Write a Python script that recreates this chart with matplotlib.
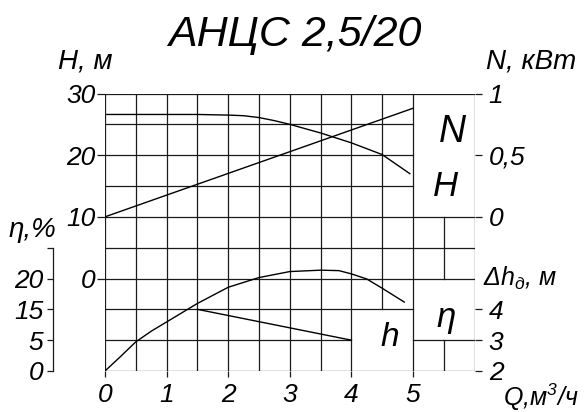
"""
Характеристика насоса АНЦС 2,5/20 в стиле чертежа
"""
import matplotlib
matplotlib.use('Agg')  # без дисплея
import matplotlib.pyplot as plt

plt.rcParams['font.family'] = ['Liberation Sans', 'DejaVu Sans']
plt.rcParams['font.style'] = 'italic'
plt.rcParams['mathtext.fontset'] = 'custom'
plt.rcParams['mathtext.it'] = 'Liberation Sans:italic'
plt.rcParams['mathtext.rm'] = 'Liberation Sans:italic'
plt.rcParams['mathtext.default'] = 'it'

# напор H, м
q_head = [0.03, 0.5, 1.0, 1.5, 2.0, 2.25, 2.5, 2.75, 3.0, 3.5, 4.0, 4.5, 4.95]
head = [26.6, 26.6, 26.6, 26.6, 26.5, 26.4, 26.1, 25.6, 25.0, 23.6, 22.0, 20.1, 17.0]

# мощность N, кВт
q_power = [0.0, 5.0]
power = [0.0, 0.88]

# КПД (в единицах шкалы η)
q_eff = [0.0, 0.25, 0.5, 0.75, 1.0, 1.5, 2.0, 2.5, 3.0, 3.5, 3.8, 4.0, 4.25, 4.5, 4.86]
eff = [0.0, 3.1, 6.3, 8.6, 10.6, 14.6, 18.1, 20.2, 21.5, 21.8, 21.7, 21.0, 19.9, 17.9, 14.9]

# допустимый кавитационный запас Δh, м
q_npsh = [1.5, 4.0]
npsh = [4.0, 3.0]

q_ticks = [0, 1, 2, 3, 4, 5]
h_ticks = [0, 10, 20, 30]
n_ticks = [0, 0.5, 1]
n_labels = ['0', '0,5', '1']
dh_ticks = [2, 3, 4]
eta_labels = ['0', '5', '15', '20']

W, H = 588, 412


def px(x, y):
    """пиксели -> доли фигуры"""
    return x / W, 1 - y / H


fig = plt.figure(figsize=(W / 100, H / 100), dpi=100)
ax = fig.add_axes([105 / W, 1 - 371 / H, 369.5 / W, 277.5 / H])
ax.set_xlim(0, 6)
ax.set_ylim(-15, 30)

axN = ax.twinx()
axN.set_ylim(-1.25, 1)
axD = ax.twinx()
axD.set_ylim(2, 11)
axE = ax.twinx()
axE.set_ylim(0, 60)

for a in (ax, axN, axD, axE):
    for s in a.spines.values():
        s.set_visible(False)
    a.patch.set_visible(False)

# сетка с разрывами под надписи
line_kw = dict(color='#1a1a1a', linewidth=0.9)
row_h = 5
h_segments = {0: [(0, 6)], 1: [(0, 5)], 2: [(0, 5)], 3: [(0, 5)], 4: [(0, 6)],
              5: [(0, 6)], 6: [(0, 6)], 7: [(0, 5)], 8: [(0, 4), (5, 6)], 9: [(0, 6)]}
for k, segs in h_segments.items():
    for x0, x1 in segs:
        ax.plot([x0, x1], [30 - row_h * k] * 2, **line_kw)
v_segments = {9: [(0, 7)], 11: [(4, 6), (8, 9)]}
for j in range(13):
    for k0, k1 in v_segments.get(j, [(0, 9)]):
        ax.plot([j * 0.5] * 2, [30 - row_h * k0, 30 - row_h * k1], **line_kw)

# кривые
curve_kw = dict(color='black', linewidth=1.0)
ax.plot(q_head, head, **curve_kw)
axN.plot(q_power, power, **curve_kw)
axE.plot(q_eff, eff, **curve_kw)
axD.plot(q_npsh, npsh, **curve_kw)

# оси и подписи делений
tick_kw = dict(width=0.9, color='#1a1a1a', labelsize=19)
ax.set_xticks(q_ticks)
ax.set_xticklabels([str(q) for q in q_ticks])
ax.tick_params(axis='x', length=4.5, pad=4.5, **tick_kw)
ax.set_yticks(h_ticks)
ax.tick_params(axis='y', length=5.8, pad=1, **tick_kw)

axN.set_yticks(n_ticks)
axN.set_yticklabels(n_labels)
axN.tick_params(axis='y', length=5.2, pad=5, **tick_kw)

axD.set_yticks(dh_ticks)
axD.tick_params(axis='y', length=5.2, pad=5, **tick_kw)

# отдельная шкала КПД слева
row_e = 60 / 9
axE.yaxis.set_ticks_position('left')
axE.spines['left'].set_visible(True)
axE.spines['left'].set_position(('outward', 37.4))
axE.spines['left'].set_bounds(0, 4 * row_e)
axE.spines['left'].set_linewidth(0.9)
axE.spines['left'].set_color('#1a1a1a')
axE.set_yticks([i * row_e for i in range(5)])
axE.set_yticklabels(eta_labels + [''])
axE.tick_params(axis='y', length=4, pad=3, **tick_kw)

# надписи
fig.text(*px(295, 35), 'АНЦС 2,5/20', fontsize=31, ha='center', va='center')
fig.text(*px(85, 62), 'H, м', fontsize=20, ha='center', va='center')
fig.text(*px(531, 62), 'N, кВт', fontsize=20, ha='center', va='center')
fig.text(*px(32, 230), 'η,%', fontsize=20, ha='center', va='center')
fig.text(*px(483, 278), r'Δh$_д$, м', fontsize=18, ha='left', va='center')
fig.text(*px(503, 397), r'Q,м$^3$/ч', fontsize=18, ha='left', va='center')
fig.text(*px(452, 132), 'N', fontsize=27, ha='center', va='center')
fig.text(*px(446, 187), 'H', fontsize=25, ha='center', va='center')
fig.text(*px(446, 317), 'η', fontsize=25, ha='center', va='center')
fig.text(*px(390, 338), 'h', fontsize=24, ha='center', va='center')

fig.savefig('out.png', dpi=100)
plt.close(fig)
